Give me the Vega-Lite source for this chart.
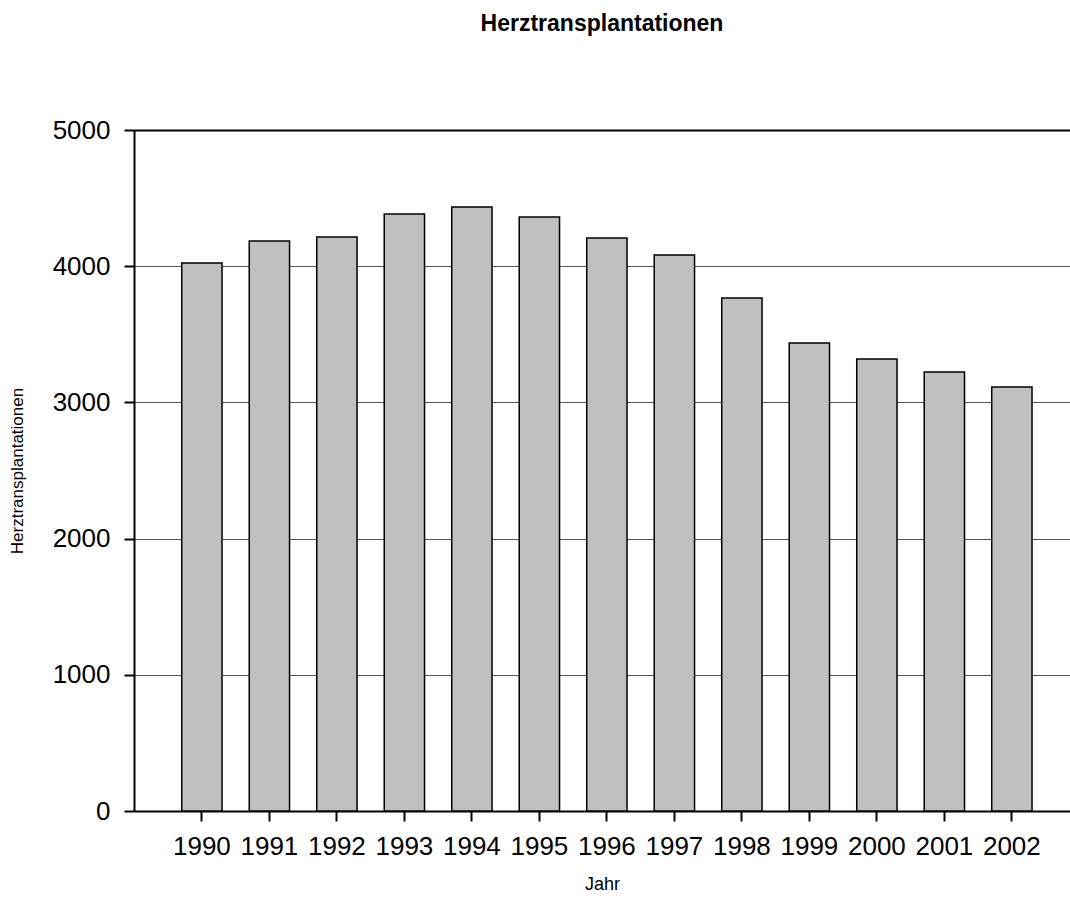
{
  "$schema": "https://vega.github.io/schema/vega-lite/v6.json",
  "width": 936,
  "height": 681,
  "autosize": {"type": "none"},
  "padding": {"left": 134, "top": 130, "right": 0, "bottom": 96},
  "background": "white",
  "config": {
    "view": {"stroke": null},
    "font": "Liberation Sans"
  },
  "title": {
    "text": "Herztransplantationen",
    "font": "Liberation Sans",
    "fontSize": 23,
    "fontWeight": "bold",
    "color": "black",
    "anchor": "middle",
    "offset": 81
  },
  "data": {
    "values": [
      {"Jahr": "1990", "Herztransplantationen": 4023},
      {"Jahr": "1991", "Herztransplantationen": 4185},
      {"Jahr": "1992", "Herztransplantationen": 4214},
      {"Jahr": "1993", "Herztransplantationen": 4383},
      {"Jahr": "1994", "Herztransplantationen": 4435},
      {"Jahr": "1995", "Herztransplantationen": 4361},
      {"Jahr": "1996", "Herztransplantationen": 4207},
      {"Jahr": "1997", "Herztransplantationen": 4082},
      {"Jahr": "1998", "Herztransplantationen": 3767},
      {"Jahr": "1999", "Herztransplantationen": 3436},
      {"Jahr": "2000", "Herztransplantationen": 3319},
      {"Jahr": "2001", "Herztransplantationen": 3223},
      {"Jahr": "2002", "Herztransplantationen": 3113}
    ]
  },
  "mark": {"type": "bar", "fill": "#c0c0c0", "stroke": "black", "strokeWidth": 1.5},
  "encoding": {
    "x": {
      "field": "Jahr",
      "type": "ordinal",
      "scale": {"paddingInner": 0.403, "paddingOuter": 0.635, "align": 0.557},
      "axis": {
        "title": "Jahr",
        "titleFont": "Liberation Sans",
        "titleFontSize": 18,
        "titleFontWeight": "normal",
        "titleColor": "black",
        "titlePadding": 16,
        "labelFont": "Liberation Sans",
        "labelFontSize": 26,
        "labelColor": "black",
        "labelAngle": 0,
        "labelPadding": 12,
        "tickColor": "black",
        "tickWidth": 2,
        "tickSize": 10,
        "domainColor": "black",
        "domainWidth": 2,
        "grid": false
      }
    },
    "y": {
      "field": "Herztransplantationen",
      "type": "quantitative",
      "scale": {"domain": [0, 5000], "nice": false},
      "axis": {
        "values": [0, 1000, 2000, 3000, 4000, 5000],
        "format": "d",
        "title": "Herztransplantationen",
        "titleFont": "Liberation Sans",
        "titleFontSize": 17,
        "titleFontWeight": "normal",
        "titleColor": "black",
        "titlePadding": 26,
        "labelFont": "Liberation Sans",
        "labelFontSize": 26,
        "labelColor": "black",
        "labelPadding": 14,
        "tickColor": "black",
        "tickWidth": 2,
        "tickSize": 10,
        "domainColor": "black",
        "domainWidth": 2,
        "grid": true,
        "gridColor": {"condition": {"test": "datum.value == 5000", "value": "black"}, "value": "#555555"},
        "gridWidth": {"condition": {"test": "datum.value == 5000", "value": 2}, "value": 1},
        "gridOpacity": 1
      }
    }
  }
}
